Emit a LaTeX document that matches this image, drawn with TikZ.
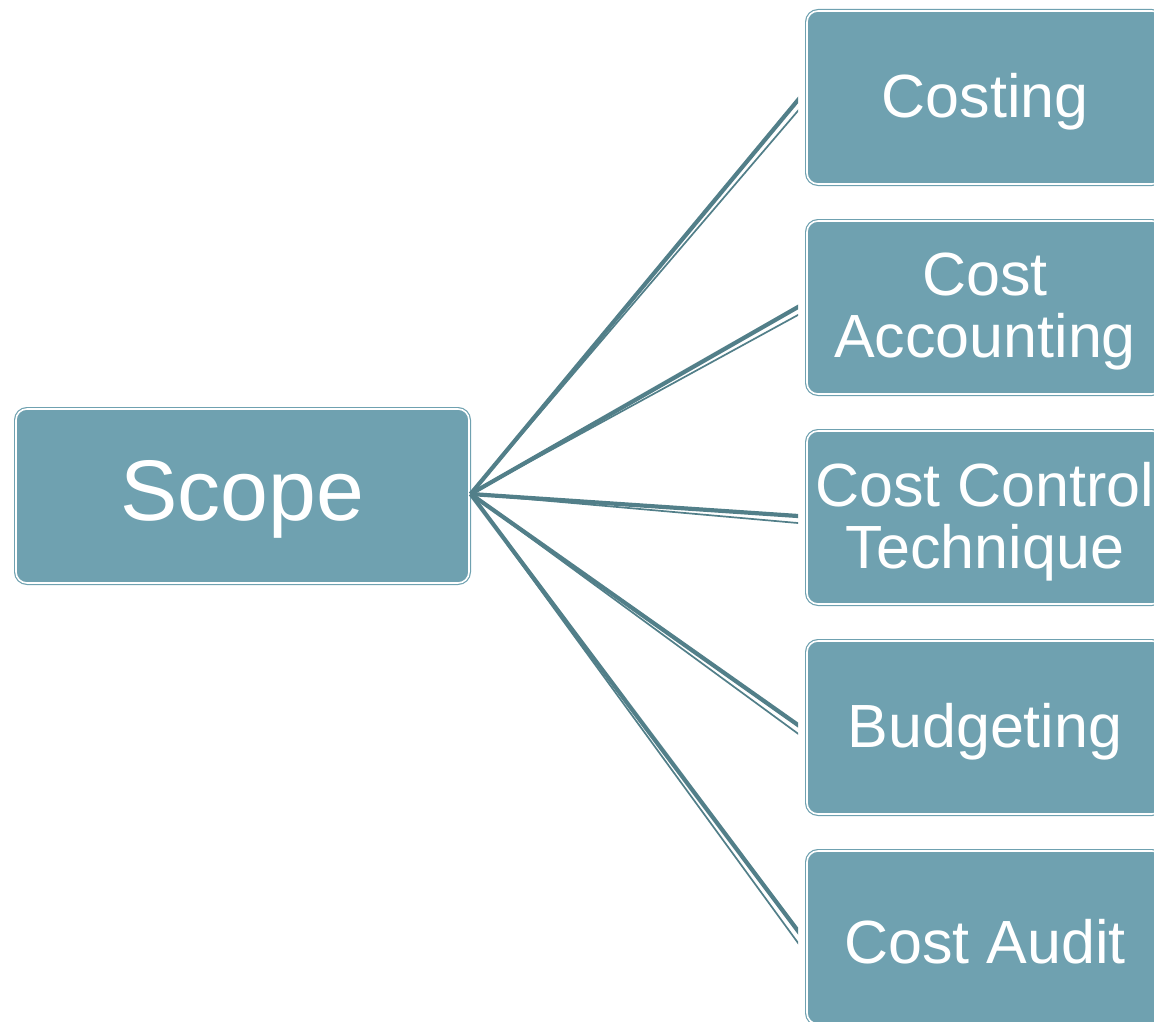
\documentclass[tikz,border=0pt]{standalone}
\usepackage{fontspec}
\setmainfont{Liberation Sans}
\usetikzlibrary{calc}
\definecolor{boxfill}{RGB}{111,161,176}
\definecolor{linkcol}{RGB}{82,127,137}
\tikzset{
  box/.style={draw=boxfill, fill=boxfill, double=white, double distance=1.6pt, line width=1.2pt,
    rounded corners=11pt, inner sep=0pt},
  bigbox/.style={box, minimum width=453pt, minimum height=174pt},
  smallbox/.style={box, minimum width=356pt, minimum height=173pt},
  boxtext/.style={text=white, align=center, inner sep=0pt},
  bigtext/.style={boxtext, font=\fontsize{86}{96}\selectfont},
  smalltext/.style={boxtext, font=\fontsize{61}{62}\selectfont},
  thickline/.style={draw=linkcol, line width=4.2pt},
  thinline/.style={draw=linkcol, line width=1.7pt}
}
\begin{document}
\begin{tikzpicture}[x=1pt,y=-1pt]
\useasboundingbox (0,0) rectangle (1154,1022);
\clip (0,0) rectangle (1154,1022);
\node[bigbox] (scope) at (242.5,496) {};
\node[bigtext] (tscope) at ($(scope.center)+(0,3)$) {Scope};
\node[smallbox] (b1) at (985,97.5) {};
\node[smallbox] (b2) at (985,307.5) {};
\node[smallbox] (b3) at (985,517.5) {};
\node[smallbox] (b4) at (985,727.5) {};
\node[smallbox] (b5) at (985,937.5) {};
\node[smalltext] (t1) at ($(b1.center)+(0,4)$) {Costing};
\node[smalltext] (t2) at ($(b2.center)+(0,4)$) {Cost\\Accounting};
\node[smalltext] (t3) at ($(b3.center)+(0,4)$) {Cost Control\\Technique};
\node[smalltext] (t4) at ($(b4.center)+(0,4)$) {Budgeting};
\node[smalltext] (t5) at ($(b5.center)+(0,4)$) {Cost Audit};
\coordinate (s) at ($(scope.east)+(1,-2)$);
\coordinate (e1) at (798,100);
\coordinate (e2) at (798,307);
\coordinate (e3) at (798,516);
\coordinate (e4) at (798,725);
\coordinate (e5) at (798,931);
\begin{scope}
\clip (0,0) rectangle (798,1022);
\foreach \i in {1,...,5}{
  \coordinate (f\i) at ($(e\i)!7pt!90:(s)$);
  \draw[thickline] (s) -- ($(s)!1.05!(e\i)$);
  \draw[thinline] (s) -- ($(s)!1.05!(f\i)$);
}
\end{scope}
\end{tikzpicture}
\end{document}
